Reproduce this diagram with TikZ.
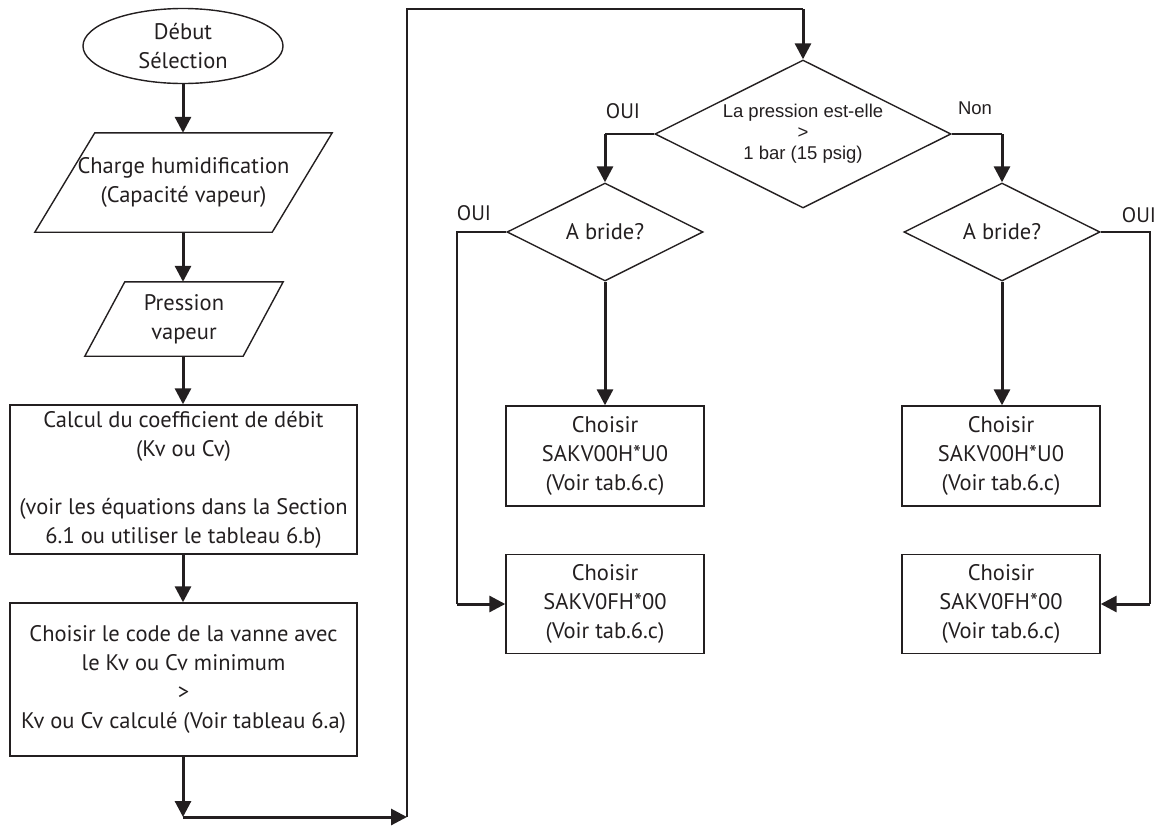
\documentclass[tikz,border=0pt]{standalone}
\usepackage{fontspec}
\setmainfont{PT Sans}
\newfontfamily\arialfont{Liberation Sans}
\usetikzlibrary{shapes.geometric,arrows.meta}
\definecolor{ink}{RGB}{35,31,32}
\begin{document}
\begin{tikzpicture}[x=1pt,y=-1pt,
  shapeline/.style={draw=ink,line width=1.4pt},
  txt/.style={font=\fontsize{22.5}{29}\selectfont,align=center,text=ink},
  box/.style={rectangle,shapeline,inner sep=0pt,txt},
  plain/.style={rectangle,inner sep=0pt,txt},
  dia/.style={diamond,aspect=2,shapeline,inner sep=0pt,txt},
  flow/.style={draw=ink,line width=3pt,-{Triangle[width=16pt,length=16pt]}},
  thinline/.style={draw=ink,line width=1.4pt},
  lbl/.style={font=\fontsize{21}{24}\selectfont,text=ink,inner sep=0pt}]
\useasboundingbox (0,0) rectangle (1167,825);

% left column
\node[ellipse,shapeline,inner sep=0pt,txt,minimum width=200pt,minimum height=75pt] (E) at (183,46) {Début\\Sélection};
\node[plain,minimum width=297pt,minimum height=99pt] (p1) at (183.5,182.5) {Charge humidification\\(Capacité vapeur)};
\draw[shapeline] ([xshift=60pt]p1.north west) -- (p1.north east) -- ([xshift=-60pt]p1.south east) -- (p1.south west) -- cycle;
\node[plain,minimum width=198pt,minimum height=74pt] (p2) at (184,319) {Pression\\vapeur};
\draw[shapeline] ([xshift=40pt]p2.north west) -- (p2.north east) -- ([xshift=-40pt]p2.south east) -- (p2.south west) -- cycle;
\node[box,minimum width=347pt,minimum height=149pt] (r1) at (183.5,479.5) {Calcul du coefficient de débit\\(Kv ou Cv)\\[29pt](voir les équations dans la Section\\6.1 ou utiliser le tableau 6.b)};
\node[box,minimum width=347pt,minimum height=153pt] (r2) at (183.5,679.5) {Choisir le code de la vanne avec\\le Kv ou Cv minimum\\>\\Kv ou Cv calculé (Voir tableau 6.a)};

\coordinate (c1) at (183,817);
\coordinate (c2) at (407,817);
\coordinate (c3) at (407,9);
\coordinate (c4) at (803,9);

\draw[flow] (E.south) -- (p1.north -| E.south);
\draw[flow] (p1.south -| E.south) -- (p2.north -| E.south);
\draw[flow] (p2.south -| E.south) -- (r1.north -| E.south);
\draw[flow] (r1.south -| E.south) -- (r2.north -| E.south);
\draw[flow] (r2.south -| E.south) -- (c1);
\draw[flow] (c1) -- (c2);
\draw[thinline] (c2) -- (c3) -- (c4);

% decision
\node[dia,minimum width=296pt,minimum height=148pt,font=\arialfont\fontsize{18.5}{21}\selectfont] (d0) at (803,134) {La pression est-elle\\>\\1 bar (15 psig)};
\draw[flow] (c4) -- (d0.north);

\coordinate (c5) at (605,134);
\coordinate (c6) at (1002,134);
\node[dia,minimum width=196pt,minimum height=98pt] (d1) at (605,232) {A bride?};
\node[dia,minimum width=196pt,minimum height=98pt] (d2) at (1002,232) {A bride?};
\draw[thinline] (d0.west) -- (c5);
\draw[flow] (c5) -- (d1.north);
\draw[thinline] (d0.east) -- (c6);
\draw[flow] (c6) -- (d2.north);

\node[lbl] (l1) at (623,111) {OUI};
\node[lbl,font=\arialfont\fontsize{18.5}{21}\selectfont] (l2) at (975,108) {Non};
\node[lbl] (l3) at (474,213) {OUI};
\node[lbl] (l4) at (1139,215) {OUI};

\node[box,minimum width=198pt,minimum height=100pt] (b1) at (605,456) {Choisir\\SAKV00H*U0\\(Voir tab.6.c)};
\node[box,minimum width=198pt,minimum height=99pt] (b2) at (605,604) {Choisir\\SAKV0FH*00\\(Voir tab.6.c)};
\node[box,minimum width=198pt,minimum height=100pt] (b3) at (1001,456) {Choisir\\SAKV00H*U0\\(Voir tab.6.c)};
\node[box,minimum width=198pt,minimum height=99pt] (b4) at (1001,604) {Choisir\\SAKV0FH*00\\(Voir tab.6.c)};

\draw[flow] (d1.south) -- (b1.north);
\draw[flow] (d2.south) -- (b3.north -| d2.south);

\coordinate (c7) at (457,232);
\coordinate (c8) at (457,604);
\coordinate (c9) at (1150,232);
\coordinate (c10) at (1150,604);
\draw[thinline] (d1.west) -- (c7) -- (c8);
\draw[flow] (c8) -- (b2.west);
\draw[thinline] (d2.east) -- (c9) -- (c10);
\draw[flow] (c10) -- (b4.east);
\end{tikzpicture}
\end{document}
